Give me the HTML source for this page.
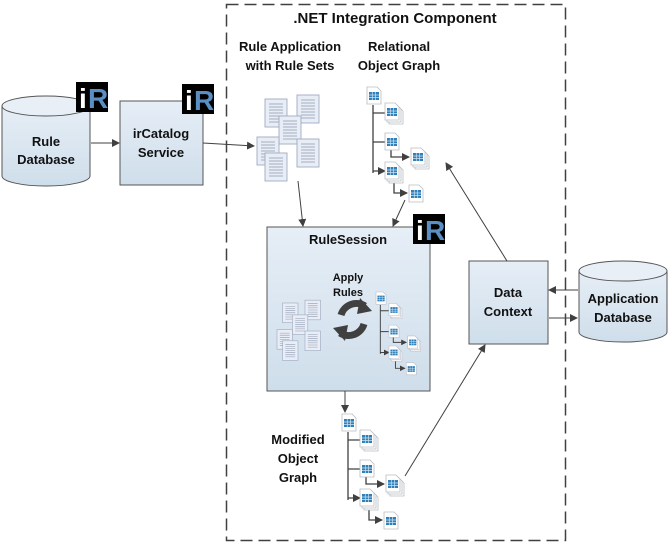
<!DOCTYPE html>
<html><head><meta charset="utf-8"><style>
body{margin:0;background:#fff}
text{font-family:"Liberation Sans",sans-serif;font-weight:bold;fill:#111}
</style></head><body>
<svg width="670" height="543" viewBox="0 0 670 543" xmlns="http://www.w3.org/2000/svg">
<defs>
<linearGradient id="g" x1="0" y1="0" x2="0" y2="1"><stop offset="0" stop-color="#e6eef6"/><stop offset="1" stop-color="#cfdeeb"/></linearGradient>
<marker id="a" markerWidth="8" markerHeight="8" refX="7" refY="4" orient="auto" markerUnits="userSpaceOnUse"><path d="M0,0L8,4L0,8z" fill="#404040"/></marker>
<g id="t"><path d="M0,0H10L14,4V17H0Z" fill="#fff" stroke="#b8bcc4" stroke-width="0.8"/><rect x="2" y="5" width="10" height="8" fill="#2f7fb8"/><path d="M2,8H12M2,10.5H12M5.3,5V13M8.6,5V13" stroke="#cfe3f2" stroke-width="0.7"/></g>
<g id="ts"><use href="#t" x="4" y="4"/><use href="#t" x="2" y="2"/><use href="#t"/></g>
<g id="d"><rect width="22" height="28" fill="#e8edf6" stroke="#9fabc0" stroke-width="0.9"/><path d="M4,5H18M4,8H18M4,11H18M4,14H18M4,17H18M4,20H18M4,23H18" stroke="#8e9bb0" stroke-width="0.8"/></g>
<g id="ir"><rect width="32" height="30" fill="#000"/><text x="3" y="26" font-size="28" style="fill:#fff" font-family="Liberation Sans">i</text><text x="12" y="26" font-size="28" style="fill:#5b8fc4">R</text></g>
<g id="docs"><use href="#d" x="8" y="0"/><use href="#d" x="40" y="-4"/><use href="#d" x="22" y="17"/><use href="#d" x="0" y="38"/><use href="#d" x="40" y="40"/><use href="#d" x="8" y="54"/></g>
<g id="graph"><path d="M6,18V86" stroke="#404040" stroke-width="1.3" fill="none"/>
<path d="M6,26H18M6,55H18M6,84H18" stroke="#404040" stroke-width="1.3" marker-end="url(#a)"/>
<path d="M24,63V70H42" stroke="#404040" stroke-width="1.3" fill="none" marker-end="url(#a)"/>
<path d="M27,94V106H40" stroke="#404040" stroke-width="1.3" fill="none" marker-end="url(#a)"/>
<use href="#t" x="0" y="0"/><use href="#ts" x="18" y="16"/><use href="#t" x="18" y="46"/><use href="#ts" x="44" y="61"/><use href="#ts" x="18" y="75"/><use href="#t" x="42" y="98"/></g>
</defs>
<rect x="226.5" y="4.5" width="339" height="536" fill="none" stroke="#404040" stroke-width="1.5" stroke-dasharray="12,6"/>
<text x="395" y="23" font-size="15" text-anchor="middle">.NET Integration Component</text>
<path d="M2,106V176A44,10 0 0 0 90,176V106" fill="url(#g)" stroke="#555"/>
<ellipse cx="46" cy="106" rx="44" ry="10" fill="#e8eff6" stroke="#555"/>
<text x="46" y="146" font-size="13" text-anchor="middle">Rule</text>
<text x="46" y="164" font-size="13" text-anchor="middle">Database</text>
<use href="#ir" x="76" y="82"/>
<rect x="120" y="101" width="83" height="84" fill="url(#g)" stroke="#555"/>
<text x="161" y="138" font-size="13" text-anchor="middle">irCatalog</text>
<text x="161" y="157" font-size="13" text-anchor="middle">Service</text>
<use href="#ir" x="182" y="84"/>
<path d="M91,143H119" stroke="#404040" marker-end="url(#a)"/>
<path d="M203,143L254,146" stroke="#404040" marker-end="url(#a)"/>
<text x="290" y="51" font-size="13" text-anchor="middle">Rule Application</text>
<text x="290" y="70" font-size="13" text-anchor="middle">with Rule Sets</text>
<text x="399" y="51" font-size="13" text-anchor="middle">Relational</text>
<text x="399" y="70" font-size="13" text-anchor="middle">Object Graph</text>
<use href="#docs" x="257" y="99"/>
<use href="#graph" x="367" y="87"/>
<rect x="267" y="227" width="163" height="164" fill="url(#g)" stroke="#555"/>
<text x="348" y="244" font-size="13" text-anchor="middle">RuleSession</text>
<use href="#ir" x="413" y="214"/>
<text x="348" y="281" font-size="11" text-anchor="middle">Apply</text>
<text x="348" y="296" font-size="11" text-anchor="middle">Rules</text>
<g transform="translate(277,303) scale(0.7)"><use href="#docs"/></g>
<g transform="translate(376,292) scale(0.72)"><use href="#graph"/></g>
<path d="M341,315A16,16 0 0 1 365,306" stroke="#404040" stroke-width="7" fill="none"/><path d="M360,298L372,311L357,314Z" fill="#404040"/>
<path d="M364,324A16,16 0 0 1 340,333" stroke="#404040" stroke-width="7" fill="none"/><path d="M345,341L333,328L348,325Z" fill="#404040"/>
<path d="M298,181L303,226" stroke="#404040" marker-end="url(#a)"/>
<path d="M405,200L393,226" stroke="#404040" marker-end="url(#a)"/>
<path d="M345,391V412" stroke="#404040" marker-end="url(#a)"/>
<text x="298" y="444" font-size="13" text-anchor="middle">Modified</text>
<text x="298" y="463" font-size="13" text-anchor="middle">Object</text>
<text x="298" y="482" font-size="13" text-anchor="middle">Graph</text>
<use href="#graph" x="342" y="414"/>
<path d="M405,476L485,345" stroke="#404040" marker-end="url(#a)"/>
<rect x="469" y="261" width="79" height="83" fill="url(#g)" stroke="#555"/>
<text x="508" y="297" font-size="13" text-anchor="middle">Data</text>
<text x="508" y="316" font-size="13" text-anchor="middle">Context</text>
<path d="M507,261L446,163" stroke="#404040" marker-end="url(#a)"/>
<path d="M578,290H549" stroke="#404040" marker-end="url(#a)"/>
<path d="M549,318H577" stroke="#404040" marker-end="url(#a)"/>
<path d="M579,271V332A44,10 0 0 0 667,332V271" fill="url(#g)" stroke="#555"/>
<ellipse cx="623" cy="271" rx="44" ry="10" fill="#e8eff6" stroke="#555"/>
<text x="623" y="303" font-size="13" text-anchor="middle">Application</text>
<text x="623" y="322" font-size="13" text-anchor="middle">Database</text>
</svg>
</body></html>
